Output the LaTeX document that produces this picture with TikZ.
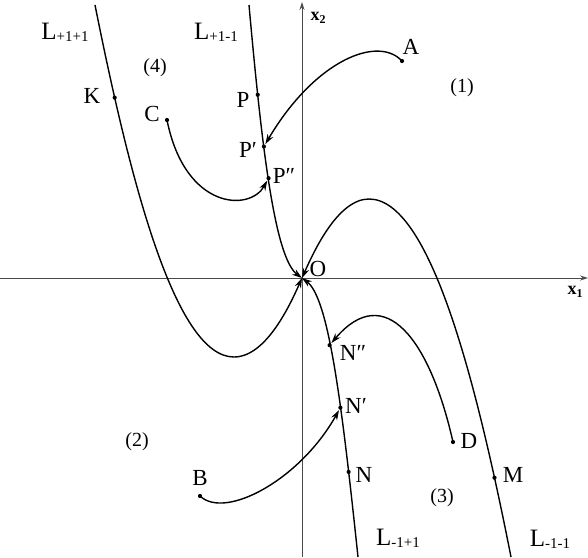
\documentclass[tikz,border=0pt]{standalone}
\usepackage{fontspec}
\setmainfont{Liberation Serif}
\usetikzlibrary{arrows.meta}
\definecolor{AxisGray}{HTML}{4A4A4A}
\newcommand{\Lsub}[1]{L\raisebox{-2pt}{\fontsize{15}{15}\selectfont #1}}
\newcommand{\xaxlbl}[1]{\textbf{x}\raisebox{-3pt}{\fontsize{12}{12}\selectfont\bfseries #1}}

\begin{document}
\begin{tikzpicture}[
  x=1pt, y=-1pt,
  >={Stealth[length=10pt, width=6.5pt]},
  axis/.style={->, draw=AxisGray, line width=0.9pt, >={Stealth[length=8pt, width=5pt]}},
  sep/.style={->, line width=1.4pt, line join=round},
  traj/.style={->, line width=1.4pt},
  dot/.style={circle, fill, inner sep=0pt, minimum size=4.2pt},
  lbl/.style={font=\fontsize{23}{26}\selectfont, inner sep=0pt},
  curvelbl/.style={font=\fontsize{25}{28}\selectfont, inner sep=0pt},
  region/.style={font=\fontsize{20}{23}\selectfont, inner sep=0pt},
]
\useasboundingbox (0,0) rectangle (588,557);

% axes
\draw[axis] (0,278) -- (588,278);
\draw[axis] (302,557) -- (302,2);
\node[font=\fontsize{18}{20}\selectfont, inner sep=0pt] (x1) at (575,292) {\xaxlbl{1}};
\node[font=\fontsize{18}{20}\selectfont, inner sep=0pt] (x2) at (318,18) {\xaxlbl{2}};

\coordinate (O) at (302,278);

% separatrices, with their marked points
\draw[sep] (95,5) .. controls (130,180) and (175,357) .. (234,357)
  node[dot, pos=0.178] (K) {}
  .. controls (266,357) and (290,305) .. (O);
\draw[sep] (511,557) .. controls (476,380) and (430,199) .. (369,199)
  node[dot, pos=0.15] (M) {}
  .. controls (338,199) and (314,251) .. (O);
\draw[sep] (249,5) .. controls (262,150) and (275,258) .. (O)
  node[dot, pos=0.22] (P) {}
  node[dot, pos=0.365] (P1) {}
  node[dot, pos=0.465] (P2) {};
\draw[sep] (358,557) .. controls (342,406) and (329,298) .. (O)
  node[dot, pos=0.2] (N) {}
  node[dot, pos=0.375] (N1) {}
  node[dot, pos=0.585] (N2) {};

% start points
\node[dot] (A) at (402,61) {};
\node[dot] (C) at (167,120) {};
\node[dot] (D) at (453,442) {};
\node[dot] (B) at (200,496) {};

% trajectories
\draw[traj] (A.center) .. controls (378,35) and (315,60) .. (P1);
\draw[traj] (C.center) .. controls (185,210) and (250,212) .. (P2);
\draw[traj] (D.center) .. controls (430,340) and (385,280) .. (N2);
\draw[traj] (B.center) .. controls (225,520) and (300,480) .. (N1);

% labels
\node[curvelbl] (lpp) at (65,32) {\Lsub{+1+1}};
\node[curvelbl] (lpm) at (216,32) {\Lsub{+1-1}};
\node[curvelbl] (lmp) at (398,538) {\Lsub{-1+1}};
\node[curvelbl] (lmm) at (550,539) {\Lsub{-1-1}};
\node[lbl] at (411,47) {A};
\node[lbl] at (92,96) {K};
\node[lbl] at (152,114) {C};
\node[lbl] at (243,100) {P};
\node[lbl] at (248,150) {P′};
\node[lbl] at (284,176) {P″};
\node[lbl] at (318,269) {O};
\node[lbl] at (353,353) {N″};
\node[lbl] at (356,406) {N′};
\node[lbl] at (364,475) {N};
\node[lbl] at (469,441) {D};
\node[lbl] at (513,475) {M};
\node[lbl] at (200,478) {B};
\node[region] at (462,88) {(1)};
\node[region] at (137,442) {(2)};
\node[region] at (442,498) {(3)};
\node[region] at (155,68) {(4)};
\end{tikzpicture}
\end{document}
